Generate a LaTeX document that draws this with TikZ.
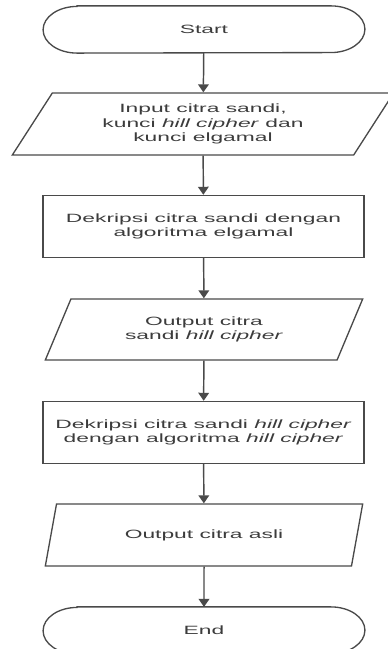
\documentclass[tikz,border=0pt]{standalone}
\usepackage{fontspec}
\setmainfont[FakeStretch=1.9]{Liberation Sans}
\usetikzlibrary{arrows.meta,positioning,shapes.geometric}
\definecolor{linegray}{HTML}{4A4A4A}
\definecolor{textgray}{HTML}{3C3C3C}

\begin{document}
\begin{tikzpicture}[
  x=0.75pt, y=-0.75pt,
  every node/.style={font=\fontsize{9}{10.8}\selectfont, text=textgray, align=center},
  term/.style={minimum width=241pt, minimum height=35pt},
  proc/.style={draw=linegray, line width=1.1pt, minimum width=240.5pt,
               minimum height=46.5pt, inner sep=0pt},
  io/.style={draw=linegray, line width=1pt, trapezium, trapezium left angle=45,
             trapezium right angle=135, trapezium stretches body,
             inner sep=0pt},
  arr/.style={-{Triangle[width=8pt,length=6pt]}, draw=linegray, line width=1.1pt}
]
\useasboundingbox (0,0) rectangle (387,649);

%% Start / End terminals
\node[term] (start) at (204,29.5) {Start};
\draw[draw=linegray, line width=1pt]
  ([xshift=25.5pt]start.north west) -- ([xshift=-25.5pt]start.north east)
  arc[start angle=90, end angle=-90, x radius=25.5pt, y radius=17.5pt]
  -- ([xshift=25.5pt]start.south west)
  arc[start angle=270, end angle=90, x radius=25.5pt, y radius=17.5pt] -- cycle;

%% Input
\node[io, minimum width=286pt, minimum height=46.5pt] (input) at (203,124)
  {Input citra sandi,\\kunci \textit{hill cipher} dan\\kunci elgamal};

%% Decrypt elgamal
\node[proc] (dek1) at (203.5,226.5) {Dekripsi citra sandi dengan\\algoritma elgamal};

%% Output hill cipher image
\node[io, minimum width=238pt, minimum height=45.75pt] (out1) at (204,329.5)
  {Output citra\\sandi \textit{hill cipher}};

%% Decrypt hill cipher
\node[proc] (dek2) at (203.5,432.5)
  {Dekripsi citra sandi \textit{hill cipher}\\dengan algoritma \textit{hill cipher}};

%% Output original image
\node[io, minimum width=238pt, minimum height=46.5pt] (out2) at (204,535)
  {Output citra asli};

\node[term] (end) at (204,630.5) {End};
\draw[draw=linegray, line width=1pt]
  ([xshift=25.5pt]end.north west) -- ([xshift=-25.5pt]end.north east)
  arc[start angle=90, end angle=-90, x radius=25.5pt, y radius=17.5pt]
  -- ([xshift=25.5pt]end.south west)
  arc[start angle=270, end angle=90, x radius=25.5pt, y radius=17.5pt] -- cycle;

%% Flow
\draw[arr] (start) -- (input);
\draw[arr] (input) -- (dek1);
\draw[arr] (dek1) -- (out1);
\draw[arr] (out1) -- (dek2);
\draw[arr] (dek2) -- (out2);
\draw[arr] (out2) -- (end);
\end{tikzpicture}
\end{document}
